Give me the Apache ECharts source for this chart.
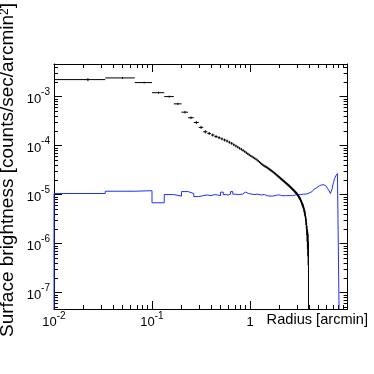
<!DOCTYPE html>
<html><head><meta charset="utf-8">
<script src="https://cdn.jsdelivr.net/npm/echarts@6/dist/echarts.min.js"></script>
<style>html,body{margin:0;padding:0;background:#fff}#c{width:374px;height:374px}</style>
</head><body><div id="c"></div>
<script>
// ---------------- data ----------------
// Source profile: 2 arcsec (1/30 arcmin) bins starting at r = 0
const profileBinArcmin = 1 / 30;
const profileFirstRadius = 0.0222;       // mean radius of the central bin
const profileValues = [
  2.22e-3, 2.40e-3, 1.93e-3, 1.20e-3, 1.00e-3, 7.1e-4, 4.8e-4, 3.7e-4, 2.95e-4, 2.35e-4,
  1.91e-4, 1.77e-4, 1.64e-4, 1.53e-4, 1.45e-4, 1.37e-4, 1.30e-4, 1.24e-4, 1.17e-4, 1.11e-4,
  1.04e-4, 9.8e-5, 9.3e-5, 8.8e-5, 8.4e-5, 7.98e-5, 7.54e-5, 7.14e-5, 6.79e-5, 6.46e-5,
  6.18e-5, 5.93e-5, 5.69e-5, 5.48e-5, 5.28e-5, 5.06e-5, 4.82e-5, 4.60e-5, 4.40e-5, 4.20e-5,
  4.03e-5, 3.90e-5, 3.79e-5, 3.69e-5, 3.60e-5, 3.49e-5, 3.38e-5, 3.27e-5, 3.17e-5, 3.08e-5,
  2.99e-5, 2.90e-5, 2.82e-5, 2.73e-5, 2.64e-5, 2.56e-5, 2.48e-5, 2.41e-5, 2.34e-5, 2.27e-5,
  2.21e-5, 2.14e-5, 2.08e-5, 2.03e-5, 1.97e-5, 1.92e-5, 1.87e-5, 1.82e-5, 1.77e-5, 1.73e-5,
  1.69e-5, 1.64e-5, 1.61e-5, 1.57e-5, 1.53e-5, 1.50e-5, 1.46e-5, 1.42e-5, 1.39e-5, 1.35e-5,
  1.32e-5, 1.29e-5, 1.26e-5, 1.22e-5, 1.20e-5, 1.17e-5, 1.14e-5, 1.11e-5, 1.08e-5, 1.06e-5,
  1.03e-5, 9.93e-6, 9.60e-6, 9.29e-6, 8.98e-6, 8.69e-6, 8.41e-6, 8.13e-6, 7.73e-6, 7.35e-6,
  7.00e-6, 6.67e-6, 6.34e-6, 6.04e-6, 5.75e-6, 5.40e-6, 4.99e-6, 4.61e-6, 4.27e-6, 3.95e-6,
  3.45e-6, 3.01e-6, 2.63e-6, 2.11e-6, 1.70e-6, 1.37e-6, 1.15e-6, 9.6e-7, 5.0e-7
];
const profileErrors = [
  1.6e-4, 1.1e-4, 8e-5, 5.5e-5, 4.5e-5, 3.6e-5, 2.8e-5, 2.3e-5, 1.9e-5, 1.6e-5,
  1.4e-5, 1.25e-5, 1.15e-5, 1.05e-5, 9.8e-6, 9.2e-6, 8.6e-6, 8.1e-6, 7.6e-6, 7.2e-6,
  6.4e-6, 6.0e-6, 5.6e-6, 5.2e-6, 4.9e-6, 4.6e-6, 4.3e-6, 4.0e-6, 3.8e-6, 3.6e-6,
  3.0e-6, 2.9e-6, 2.8e-6, 2.7e-6, 2.6e-6, 2.5e-6, 2.4e-6, 2.35e-6, 2.3e-6, 2.2e-6,
  2.1e-6, 2.05e-6, 2.0e-6, 1.95e-6, 1.9e-6, 1.85e-6, 1.8e-6, 1.75e-6, 1.7e-6, 1.65e-6,
  1.6e-6, 1.55e-6, 1.5e-6, 1.5e-6, 1.45e-6, 1.4e-6, 1.4e-6, 1.35e-6, 1.3e-6, 1.3e-6,
  1.25e-6, 1.2e-6, 1.2e-6, 1.15e-6, 1.1e-6, 1.1e-6, 1.05e-6, 1.0e-6, 1.0e-6, 9.8e-7,
  9.6e-7, 9.4e-7, 9.2e-7, 9.0e-7, 8.8e-7, 8.6e-7, 8.4e-7, 8.2e-7, 8.0e-7, 7.9e-7,
  7.8e-7, 7.7e-7, 7.6e-7, 7.5e-7, 7.4e-7, 7.3e-7, 7.2e-7, 7.1e-7, 7.0e-7, 6.9e-7,
  6.8e-7, 6.8e-7, 6.7e-7, 6.7e-7, 6.6e-7, 6.6e-7, 6.5e-7, 6.5e-7, 6.4e-7, 6.4e-7,
  6.3e-7, 6.3e-7, 6.3e-7, 6.3e-7, 6.3e-7, 6.3e-7, 6.3e-7, 6.3e-7, 6.3e-7, 6.3e-7,
  6.2e-7, 6.2e-7, 6.1e-7, 6.1e-7, 6.0e-7, 6.0e-7, 6.0e-7, 6.0e-7, 6.0e-7
];
// Background profile (blue histogram): inner part in 2" bins, outer part in 0.1' bins
const bgInnerBinArcmin = 1 / 30;
const bgInnerValues = [
  1.05e-5, 1.17e-5, 1.20e-5, 6.8e-6, 1.00e-5, 9.3e-6, 1.15e-5, 1.05e-5, 9.1e-6, 9.5e-6,
  9.8e-6, 9.5e-6, 1.00e-5, 9.8e-6, 9.5e-6, 1.12e-5, 1.00e-5, 9.8e-6, 1.02e-5, 1.15e-5,
  1.02e-5, 1.05e-5, 1.00e-5, 1.07e-5, 1.02e-5, 1.00e-5, 1.12e-5, 1.10e-5, 1.05e-5, 1.00e-5
];
const bgOuterStartArcmin = 1.0;
const bgOuterBinArcmin = 0.1;
const bgOuterValues = [
  1.00e-5, 1.02e-5, 9.8e-6, 1.00e-5, 9.5e-6, 9.3e-6, 9.3e-6, 9.5e-6, 9.8e-6, 9.8e-6,
  9.5e-6, 9.8e-6, 9.5e-6, 9.8e-6, 9.5e-6, 9.8e-6, 9.5e-6, 1.00e-5, 9.8e-6, 1.00e-5,
  1.00e-5, 1.02e-5, 1.00e-5, 1.02e-5, 1.02e-5, 1.05e-5, 1.02e-5, 1.05e-5, 1.05e-5, 1.07e-5,
  1.10e-5, 1.12e-5, 1.15e-5, 1.17e-5, 1.23e-5, 1.29e-5, 1.35e-5, 1.38e-5, 1.41e-5, 1.48e-5,
  1.51e-5, 1.55e-5, 1.55e-5, 1.58e-5, 1.58e-5, 1.55e-5, 1.58e-5, 1.55e-5, 1.51e-5, 1.48e-5,
  1.45e-5, 1.38e-5, 1.32e-5, 1.26e-5, 1.20e-5, 1.12e-5, 1.05e-5, 1.00e-5, 1.12e-5, 1.32e-5,
  1.58e-5, 1.74e-5, 1.91e-5, 2.14e-5, 2.29e-5, 2.40e-5, 2.51e-5, 2.63e-5, 2.69e-5, 2.75e-5,
  2.82e-5
];
// Axes
const xRange = [0.01, 9.9];
const yRange = [4.62e-8, 4.62e-3];
const xMajorTicks = [0.01, 0.1, 1];
const yMajorTicks = [1e-7, 1e-6, 1e-5, 1e-4, 1e-3];
const xTitle = 'Radius [arcmin]';
const yTitle = 'Surface brightness [counts/sec/arcmin{s|2}]';

// ---------------- build ----------------
const L = Math.log10;
const FONT = 'Liberation Sans, Arial, Helvetica, sans-serif';

function minorTicks(range) {
  const out = [];
  for (let d = Math.floor(L(range[0])); d <= Math.ceil(L(range[1])); d++) {
    for (let k = 2; k <= 9; k++) {
      const v = k * Math.pow(10, d);
      if (v > range[0] && v < range[1]) out.push(L(v));
    }
  }
  return out;
}
const xMinor = minorTicks(xRange), yMinor = minorTicks(yRange);
const xMajor = xMajorTicks.map(L), yMajor = yMajorTicks.map(L);

// profile points with bin extents and error bars
const profileData = profileValues.map((v, k) => {
  const lo = k * profileBinArcmin, hi = (k + 1) * profileBinArcmin;
  const c = k === 0 ? profileFirstRadius : (lo + hi) / 2;
  const e = profileErrors[k];
  return [L(Math.max(lo, xRange[0])), L(hi), L(c), L(v),
          L(Math.max(v - e, yRange[0])), L(v + e)];
});

// background histogram outline
const bgPts = [];
bgPts.push([L(xRange[0]), L(yRange[0])]);
bgInnerValues.forEach((v, k) => {
  bgPts.push([L(Math.max(k * bgInnerBinArcmin, xRange[0])), L(v)]);
  bgPts.push([L((k + 1) * bgInnerBinArcmin), L(v)]);
});
bgOuterValues.forEach((v, k) => {
  bgPts.push([L(bgOuterStartArcmin + k * bgOuterBinArcmin), L(v)]);
  bgPts.push([L(bgOuterStartArcmin + (k + 1) * bgOuterBinArcmin), L(v)]);
});
bgPts.push([L(bgOuterStartArcmin + bgOuterValues.length * bgOuterBinArcmin), L(yRange[0])]);

const rich = {
  b: { fontSize: 13, lineHeight: 18, verticalAlign: 'bottom', fontFamily: FONT, color: '#000' },
  s: { fontSize: 10, lineHeight: 10, verticalAlign: 'top', fontFamily: FONT, color: '#000' }
};
function fmt(v) {
  const e = Math.round(v);
  if (e === 0) return '{b|1}';
  return '{b|10}{s|' + e + '}';
}
function axis(kind, pos, ticks, len, labels, lineShow) {
  const range = kind === 'x' ? xRange : yRange;
  return {
    type: 'value', position: pos, min: L(range[0]), max: L(range[1]),
    axisLine: { show: lineShow, onZero: false, lineStyle: { color: '#000', width: 1 } },
    axisTick: { show: true, inside: true, length: len, customValues: ticks, lineStyle: { color: '#000', width: 1 } },
    axisLabel: labels ? { show: true, customValues: ticks, formatter: fmt, rich: rich, margin: kind === 'x' ? 2 : 4 } : { show: false },
    splitLine: { show: false }, minorTick: { show: false }
  };
}

const chart = echarts.init(document.getElementById('c'), null, { renderer: 'canvas' });
chart.setOption({
  animation: false,
  backgroundColor: '#fff',
  grid: { left: 54, top: 64, right: 26.4, bottom: 65, containLabel: false },
  xAxis: [
    axis('x', 'bottom', xMajor, 8, true, true),
    axis('x', 'bottom', xMinor, 4, false, false),
    axis('x', 'top', xMajor, 8, false, true),
    axis('x', 'top', xMinor, 4, false, false)
  ],
  yAxis: [
    axis('y', 'left', yMajor, 8, true, true),
    axis('y', 'left', yMinor, 4, false, false),
    axis('y', 'right', yMajor, 8, false, true),
    axis('y', 'right', yMinor, 4, false, false)
  ],
  graphic: [
    { type: 'text', x: 368, y: 320, style: { text: xTitle, fontSize: 14.6, fontFamily: FONT, fill: '#000', align: 'right', verticalAlign: 'middle' } },
    { type: 'text', x: 8, y: 170, rotation: Math.PI / 2,
      style: { text: yTitle, fontSize: 19, fontFamily: FONT, fill: '#000', align: 'center', verticalAlign: 'middle',
               rich: { s: { fontSize: 12, verticalAlign: 'top', lineHeight: 12, fontFamily: FONT } } } }
  ],
  series: [
    {
      name: 'background', type: 'line', data: bgPts, xAxisIndex: 0, yAxisIndex: 0,
      showSymbol: false, symbol: 'none', clip: true, z: 3,
      lineStyle: { color: '#1f2fff', width: 1 }
    },
    {
      name: 'source', type: 'custom', data: profileData, xAxisIndex: 0, yAxisIndex: 0, clip: true, z: 4,
      renderItem: function (params, api) {
        const pL = api.coord([api.value(0), api.value(3)]);
        const pR = api.coord([api.value(1), api.value(3)]);
        const pC = api.coord([api.value(2), api.value(3)]);
        const pLo = api.coord([api.value(2), api.value(4)]);
        const pHi = api.coord([api.value(2), api.value(5)]);
        return { type: 'group', children: [
          { type: 'line', shape: { x1: pL[0], y1: pL[1], x2: pR[0], y2: pR[1] }, style: { stroke: '#000', lineWidth: 1 } },
          { type: 'line', shape: { x1: pC[0], y1: pLo[1], x2: pC[0], y2: pHi[1] }, style: { stroke: '#000', lineWidth: 1 } }
        ] };
      }
    }
  ]
});
</script>
</body></html>
